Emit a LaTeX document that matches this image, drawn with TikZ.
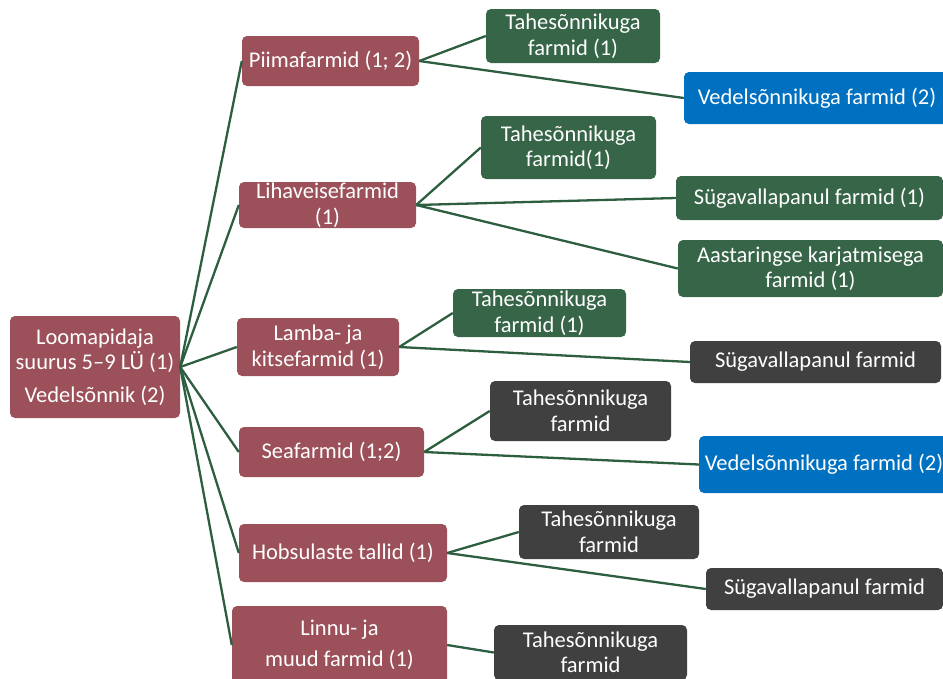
\documentclass[tikz,border=0pt]{standalone}
\usepackage{fontspec}
\setmainfont{Carlito}
\definecolor{maroon}{HTML}{9B505A}
\definecolor{dgreen}{HTML}{366548}
\definecolor{mblue}{HTML}{0070C0}
\definecolor{dgray}{HTML}{404040}
\definecolor{linec}{HTML}{2D5E3F}
\begin{document}
\begin{tikzpicture}[x=1pt,y=-1pt,
  box/.style={rectangle, rounded corners=5pt, inner sep=0pt, align=center, text=white,
    font=\fontsize{22.5}{25.5}\selectfont},
  lvl/.style={box, fill=maroon},
  grn/.style={box, fill=dgreen},
  blu/.style={box, fill=mblue},
  gry/.style={box, fill=dgray},
  conn/.style={draw=linec, line width=2.3pt}]
\useasboundingbox (0,0) rectangle (943,678);
% root
\node[lvl, minimum width=170pt, minimum height=102pt] (root) at (95,367)
  {Loomapidaja\\suurus 5--9 LÜ (1)\\[7pt]Vedelsõnnik (2)};
% level 1
\node[lvl, minimum width=177pt, minimum height=50pt] (piima) at (330.5,61) {Piimafarmid (1; 2)};
\node[lvl, minimum width=177pt, minimum height=46pt] (liha) at (327.5,205) {Lihaveisefarmid\\(1)};
\node[lvl, minimum width=162pt, minimum height=58pt] (lamba) at (318,347) {Lamba- ja\\kitsefarmid (1)};
\node[lvl, minimum width=185pt, minimum height=50pt] (sea) at (331.5,452) {Seafarmid (1;2)};
\node[lvl, minimum width=208pt, minimum height=58pt] (hobs) at (343,553) {Hobsulaste tallid (1)};
\node[lvl, minimum width=215pt, minimum height=78pt] (linnu) at (339.5,645) {Linnu- ja\\[6pt]muud farmid (1)};
% level 2
\node[grn, minimum width=174pt, minimum height=54pt] (p1) at (573,36) {Tahesõnnikuga\\farmid (1)};
\node[blu, minimum width=266pt, minimum height=52pt] (p2) at (817,98) {Vedelsõnnikuga farmid (2)};
\node[grn, minimum width=175pt, minimum height=63pt] (l1) at (568.5,147.5) {Tahesõnnikuga\\farmid(1)};
\node[grn, minimum width=267pt, minimum height=44pt] (l2) at (809.5,198) {Sügavallapanul farmid (1)};
\node[grn, minimum width=265pt, minimum height=57pt] (l3) at (810.5,268.5) {Aastaringse karjatmisega\\farmid (1)};
\node[grn, minimum width=173pt, minimum height=48pt] (la1) at (539.5,313) {Tahesõnnikuga\\farmid (1)};
\node[gry, minimum width=251pt, minimum height=42pt] (la2) at (815.5,362) {Sügavallapanul farmid};
\node[gry, minimum width=181pt, minimum height=60pt] (s1) at (580.5,411) {Tahesõnnikuga\\farmid};
\node[blu, minimum width=250pt, minimum height=57pt] (s2) at (824,464.5) {Vedelsõnnikuga farmid (2)};
\node[gry, minimum width=180pt, minimum height=54pt] (h1) at (609,532) {Tahesõnnikuga\\farmid};
\node[gry, minimum width=237pt, minimum height=42pt] (h2) at (824.5,589) {Sügavallapanul farmid};
\node[gry, minimum width=193pt, minimum height=55pt] (n1) at (590.5,652.5) {Tahesõnnikuga\\farmid};
% connectors
\foreach \t in {piima,liha,lamba,sea,hobs,linnu}
  \draw[conn] (root.east) -- (\t.west);
\draw[conn] (piima.east) -- (p1.west);
\draw[conn] (piima.east) -- (p2.west);
\draw[conn] (liha.east) -- (l1.west);
\draw[conn] (liha.east) -- (l2.west);
\draw[conn] (liha.east) -- (l3.west);
\draw[conn] (lamba.east) -- (la1.west);
\draw[conn] (lamba.east) -- (la2.west);
\draw[conn] (sea.east) -- (s1.west);
\draw[conn] (sea.east) -- (s2.west);
\draw[conn] (hobs.east) -- (h1.west);
\draw[conn] (hobs.east) -- (h2.west);
\draw[conn] (linnu.east) -- (n1.west);
\end{tikzpicture}
\end{document}
